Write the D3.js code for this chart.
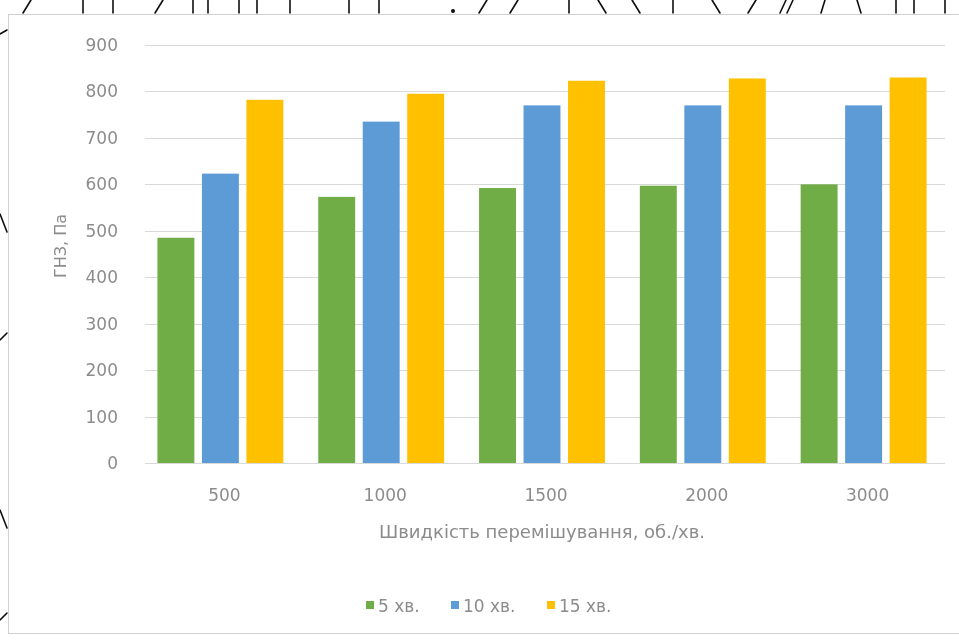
<!DOCTYPE html>
<html>
<head>
<meta charset="utf-8">
<script src="https://cdn.jsdelivr.net/npm/d3@7"></script>
<style>
  html, body { margin: 0; padding: 0; background: #ffffff; }
  svg { display: block; }
  text { font-family: "DejaVu Sans", Verdana, sans-serif; }
</style>
</head>
<body>
<script>
// Mixing speed categories (rpm) and yield stress per mixing time
const speeds = ["500", "1000", "1500", "2000", "3000"];
const seriesNames = ["5 хв.", "10 хв.", "15 хв."];
const min5  = [485, 573, 592, 597, 600];
const min10 = [623, 735, 770, 770, 770];
const min15 = [782, 795, 823, 828, 830];
const yTicks = [0, 100, 200, 300, 400, 500, 600, 700, 800, 900];
const colors = ["#70AD47", "#5B9BD5", "#FFC000"];

const W = 959, H = 641;
const textColor = "#8c8c8c";
const series = [min5, min10, min15];
const rows = speeds.map((s, i) => ({ speed: s, values: series.map((arr, k) => ({ key: seriesNames[k], value: arr[i] })) }));

const svg = d3.select("body").append("svg").attr("width", W).attr("height", H);

const defs = svg.append("defs");
defs.append("filter").attr("id", "soft")
  .append("feGaussianBlur").attr("stdDeviation", 0.6);

const root = svg.append("g").attr("filter", "url(#soft)");

// pen strokes of handwriting around the pasted chart
const ink = root.append("g").attr("stroke", "#111").attr("stroke-width", 1.6).attr("fill", "none").attr("stroke-linecap", "round");
const topStrokes = [[27, -4], [83, 0], [113, 0], [159, -4], [193, 0], [208, 0], [239, 0], [257, 0], [290, 0], [349, 0], [379, 0],
  [483, -4], [514, -4], [569, 0], [602, 4], [636, 4], [673, 0], [716, 4], [752, -4], [783, -3], [790, -3], [823, -2], [859, 2], [896, 0], [914, 0], [945, 0]];
topStrokes.forEach(([x, s]) => ink.append("line").attr("x1", x - s).attr("y1", 0).attr("x2", x + s).attr("y2", 13));
ink.append("circle").attr("cx", 453).attr("cy", 11).attr("r", 1.2).attr("fill", "#111");
const leftStrokes = [[0, 34, 7, 30], [0, 214, 7, 232], [0, 340, 7, 333], [0, 510, 7, 528], [0, 620, 7, 613]];
leftStrokes.forEach(([x1, y1, x2, y2]) => ink.append("line").attr("x1", x1).attr("y1", y1).attr("x2", x2).attr("y2", y2));

// chart area
root.append("rect").attr("x", 8.5).attr("y", 14.5).attr("width", W).attr("height", 619)
  .attr("fill", "#fff").attr("stroke", "#d0d0d0");

const x0 = d3.scaleBand().domain(speeds).range([140, 944]).paddingInner(0.17).paddingOuter(0.085);
const x1 = d3.scaleBand().domain(seriesNames).range([0, x0.bandwidth()]).paddingInner(0.17).paddingOuter(0.085);
const y = d3.scaleLinear().domain([0, 900]).range([463, 45]);

// horizontal gridlines
root.append("g").selectAll("line").data(yTicks).join("line")
  .attr("x1", 145).attr("x2", 945)
  .attr("y1", d => Math.round(y(d)) + 0.5).attr("y2", d => Math.round(y(d)) + 0.5)
  .attr("stroke", "#d9d9d9").attr("stroke-width", 1);

// y axis labels
const yAxis = d3.axisLeft(y).tickValues(yTicks).tickSize(0).tickPadding(0);
const gy = root.append("g").attr("transform", "translate(118,0)").call(yAxis);
gy.select(".domain").remove();
gy.selectAll("text").attr("font-size", 17).attr("fill", textColor).attr("font-family", "DejaVu Sans, Verdana, sans-serif");

// bars
const groups = root.append("g").selectAll("g").data(rows).join("g")
  .attr("transform", d => `translate(${x0(d.speed)},0)`);
groups.selectAll("rect").data(d => d.values).join("rect")
  .attr("x", d => x1(d.key))
  .attr("width", x1.bandwidth())
  .attr("y", d => y(d.value))
  .attr("height", d => y(0) - y(d.value))
  .attr("fill", (d, i) => colors[i]);

// x axis labels
const xAxis = d3.axisBottom(x0).tickSize(0).tickPadding(0);
const gx = root.append("g").attr("transform", "translate(4,489)").call(xAxis);
gx.select(".domain").remove();
gx.selectAll("text").attr("font-size", 17).attr("fill", textColor).attr("font-family", "DejaVu Sans, Verdana, sans-serif").attr("dy", "0.71em");

// axis titles
root.append("text").attr("x", 542).attr("y", 538).attr("text-anchor", "middle")
  .attr("font-size", 18).attr("fill", textColor).text("Швидкість перемішування, об./хв.");
root.append("text").attr("transform", "translate(66,246) rotate(-90)").attr("text-anchor", "middle")
  .attr("font-size", 16).attr("fill", textColor).text("ГНЗ, Па");

// legend
const legendX = [366, 451, 547];
const lg = root.append("g").selectAll("g").data(seriesNames).join("g")
  .attr("transform", (d, i) => `translate(${legendX[i]},605)`);
lg.append("rect").attr("x", 0).attr("y", -4).attr("width", 8).attr("height", 8).attr("fill", (d, i) => colors[i]);
lg.append("text").attr("x", 12).attr("y", 6.5).attr("font-size", 17).attr("fill", textColor).text(d => d);
</script>
</body>
</html>
